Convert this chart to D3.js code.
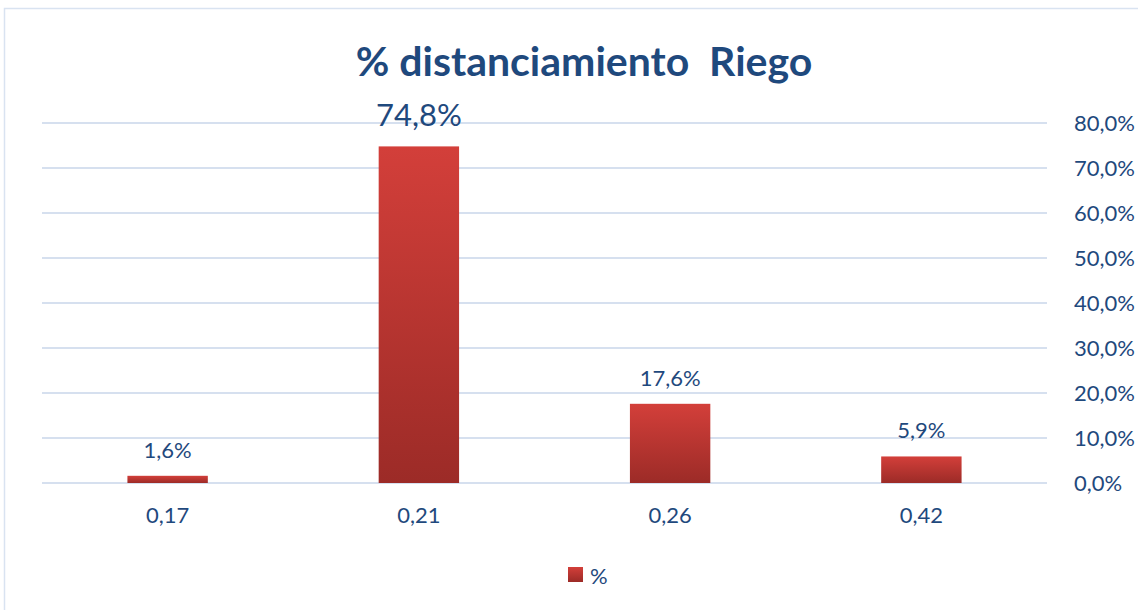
<!DOCTYPE html>
<html>
<head>
<meta charset="utf-8">
<script src="https://cdn.jsdelivr.net/npm/d3@7"></script>
<style>
  body { margin: 0; background: #fff; }
  text { font-family: Lato, "Open Sans", sans-serif; fill: #1f497d; white-space: pre; }
</style>
</head>
<body>
<svg id="chart" width="1138" height="610"></svg>
<script>
// chart data
const categories = ['0,17', '0,21', '0,26', '0,42'];
const values = [1.6, 74.8, 17.6, 5.9];
const yTicks = [0, 10, 20, 30, 40, 50, 60, 70, 80];
const title = '% distanciamiento  Riego';
const seriesName = '%';

const svg = d3.select('#chart');
const fmt = v => v.toFixed(1).replace('.', ',') + '%';

// outer frame
svg.append('rect')
    .attr('x', 4.5).attr('y', 8.5)
    .attr('width', 1150).attr('height', 620)
    .attr('fill', '#fff')
    .attr('stroke', '#d9e3f1')
    .attr('stroke-width', 1.5);

const plot = { left: 42, right: 1047, top: 123, bottom: 483 };

const x = d3.scaleBand()
    .domain(categories)
    .range([plot.left, plot.right])
    .paddingInner(0.68)
    .paddingOuter(0.34);

const y = d3.scaleLinear()
    .domain([0, 80])
    .range([plot.bottom, plot.top]);

// gradient for bars
const grad = svg.append('defs').append('linearGradient')
    .attr('id', 'barGrad')
    .attr('x1', 0).attr('y1', 0).attr('x2', 0).attr('y2', 1);
grad.append('stop').attr('offset', '0%').attr('stop-color', '#d33f3a');
grad.append('stop').attr('offset', '100%').attr('stop-color', '#9c2b27');

// gridlines
svg.append('g')
    .selectAll('line')
    .data(yTicks)
    .join('line')
    .attr('x1', plot.left).attr('x2', plot.right)
    .attr('y1', d => y(d)).attr('y2', d => y(d))
    .attr('stroke', '#d6e0ef')
    .attr('stroke-width', 2);

// right axis labels
const yAxis = d3.axisRight(y).tickValues(yTicks).tickFormat(fmt).tickSize(0).tickPadding(27);
svg.append('g')
    .attr('transform', `translate(${plot.right},0)`)
    .call(yAxis)
    .call(g => g.select('.domain').remove())
    .call(g => g.selectAll('text')
        .attr('font-size', 22)
        .attr('font-family', 'Lato, "Open Sans", sans-serif')
        .attr('fill', '#1f497d'));

// bottom category labels
const xAxis = d3.axisBottom(x).tickSize(0).tickPadding(24);
svg.append('g')
    .attr('transform', `translate(0,${plot.bottom})`)
    .call(xAxis)
    .call(g => g.select('.domain').remove())
    .call(g => g.selectAll('text')
        .attr('font-size', 22)
        .attr('font-family', 'Lato, "Open Sans", sans-serif')
        .attr('fill', '#1f497d'));

// bars
svg.append('g')
    .selectAll('rect')
    .data(values)
    .join('rect')
    .attr('x', (d, i) => x(categories[i]))
    .attr('y', d => y(d))
    .attr('width', x.bandwidth())
    .attr('height', d => y(0) - y(d))
    .attr('fill', 'url(#barGrad)');

// value labels
svg.append('g')
    .selectAll('text')
    .data(values)
    .join('text')
    .attr('x', (d, i) => x(categories[i]) + x.bandwidth() / 2)
    .attr('y', d => y(d) - (d > 50 ? 20 : 18))
    .attr('text-anchor', 'middle')
    .attr('font-size', d => d > 50 ? 31 : 22)
    .text(fmt);

// title
svg.append('text')
    .attr('x', 584).attr('y', 76)
    .attr('text-anchor', 'middle')
    .attr('font-size', 41)
    .attr('font-weight', 'bold')
    .text(title);

// legend
svg.append('rect')
    .attr('x', 568).attr('y', 567)
    .attr('width', 15).attr('height', 15)
    .attr('fill', 'url(#barGrad)');
svg.append('text')
    .attr('x', 590).attr('y', 584)
    .attr('font-size', 22)
    .text(seriesName);
</script>
</body>
</html>
